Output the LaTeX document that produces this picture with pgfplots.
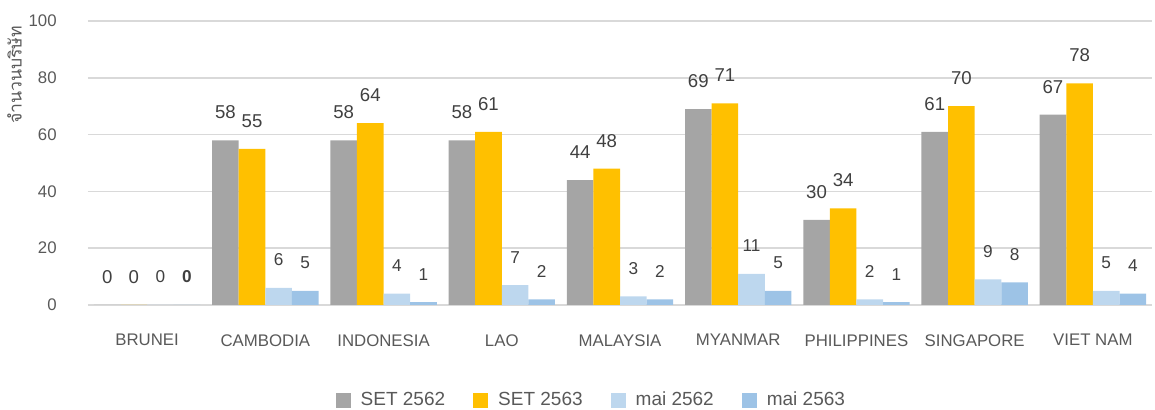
\documentclass[border=0pt]{standalone}
\usepackage{fontspec}
\setmainfont{Liberation Sans}
\newfontfamily\thaifont[Script=Thai]{Loma}
\usepackage{pgfplots}
\pgfplotsset{compat=1.18}
\definecolor{cGray}{HTML}{A5A5A5}
\definecolor{cGold}{HTML}{FFC000}
\definecolor{cLBlue}{HTML}{BDD7EE}
\definecolor{cMBlue}{HTML}{9DC3E6}
\definecolor{cGrid}{HTML}{D9D9D9}
\definecolor{cTick}{HTML}{595959}
\definecolor{cVal}{HTML}{404040}
% square legend swatch with some room before the text
\pgfplotsset{sq/.style={legend image code/.code={\fill[##1] (0pt,-3.75pt) rectangle (7.5pt,3.75pt);\path (10.5pt,0pt);}}}
\begin{document}
\begin{tikzpicture}
\begin{axis}[
scale only axis,width=532pt,height=142pt,
ybar=0pt,bar width=13.3pt,
xmin=-0.5,xmax=8.5,ymin=0,ymax=100,enlargelimits=false,
xtick={0,...,8},
xticklabels={BRUNEI,CAMBODIA,INDONESIA,LAO,MALAYSIA,MYANMAR,PHILIPPINES,SINGAPORE,VIET NAM},
ytick={0,20,...,100},
ymajorgrids,grid style={cGrid,line width=0.75pt},
axis lines=left,axis line style={draw=none},tick style={draw=none},
/pgf/number format/assume math mode=true,
ticklabel style={font=\fontsize{8.4}{10}\selectfont,text=cTick},
yticklabel style={xshift=-10pt},
xticklabel style={yshift=-9pt},
ylabel={\thaifont จำนวนบริษัท},
ylabel style={at={(axis description cs:-0.069,0.81)},anchor=center,rotate=0,font=\fontsize{8.8}{10}\selectfont,text=cTick},
clip=false,
nodes near coords,
nodes near coords style={anchor=center,yshift=14pt,font=\fontsize{9.3}{11}\selectfont,text=cVal},
legend columns=4,
legend style={draw=none,fill=none,at={(0.474,-0.335)},anchor=center,
  font=\fontsize{9.5}{11}\selectfont,text=cTick,
  /tikz/every even column/.append style={column sep=12pt}},
]
\addplot[fill=cGray,draw=none,sq] coordinates {(0,0)(1,58)(2,58)(3,58)(4,44)(5,69)(6,30)(7,61)(8,67)};
\addplot[fill=cGold,draw=none,sq] coordinates {(0,0)(1,55)(2,64)(3,61)(4,48)(5,71)(6,34)(7,70)(8,78)};
\addplot[fill=cLBlue,draw=none,sq,nodes near coords style={font=\fontsize{8.6}{10}\selectfont}] coordinates {(0,0)(1,6)(2,4)(3,7)(4,3)(5,11)(6,2)(7,9)(8,5)};
\addplot[fill=cMBlue,draw=none,sq,point meta=explicit symbolic,nodes near coords style={font=\fontsize{8.6}{10}\selectfont}] coordinates {(0,0)[\textbf{0}](1,5)[5](2,1)[1](3,2)[2](4,2)[2](5,5)[5](6,1)[1](7,8)[8](8,4)[4]};
\legend{SET 2562,SET 2563,mai 2562,mai 2563}
\end{axis}
\pgfresetboundingbox
\path[use as bounding box] (-44pt,-52.5pt) rectangle (533.5pt,152.5pt);
\end{tikzpicture}
\end{document}
